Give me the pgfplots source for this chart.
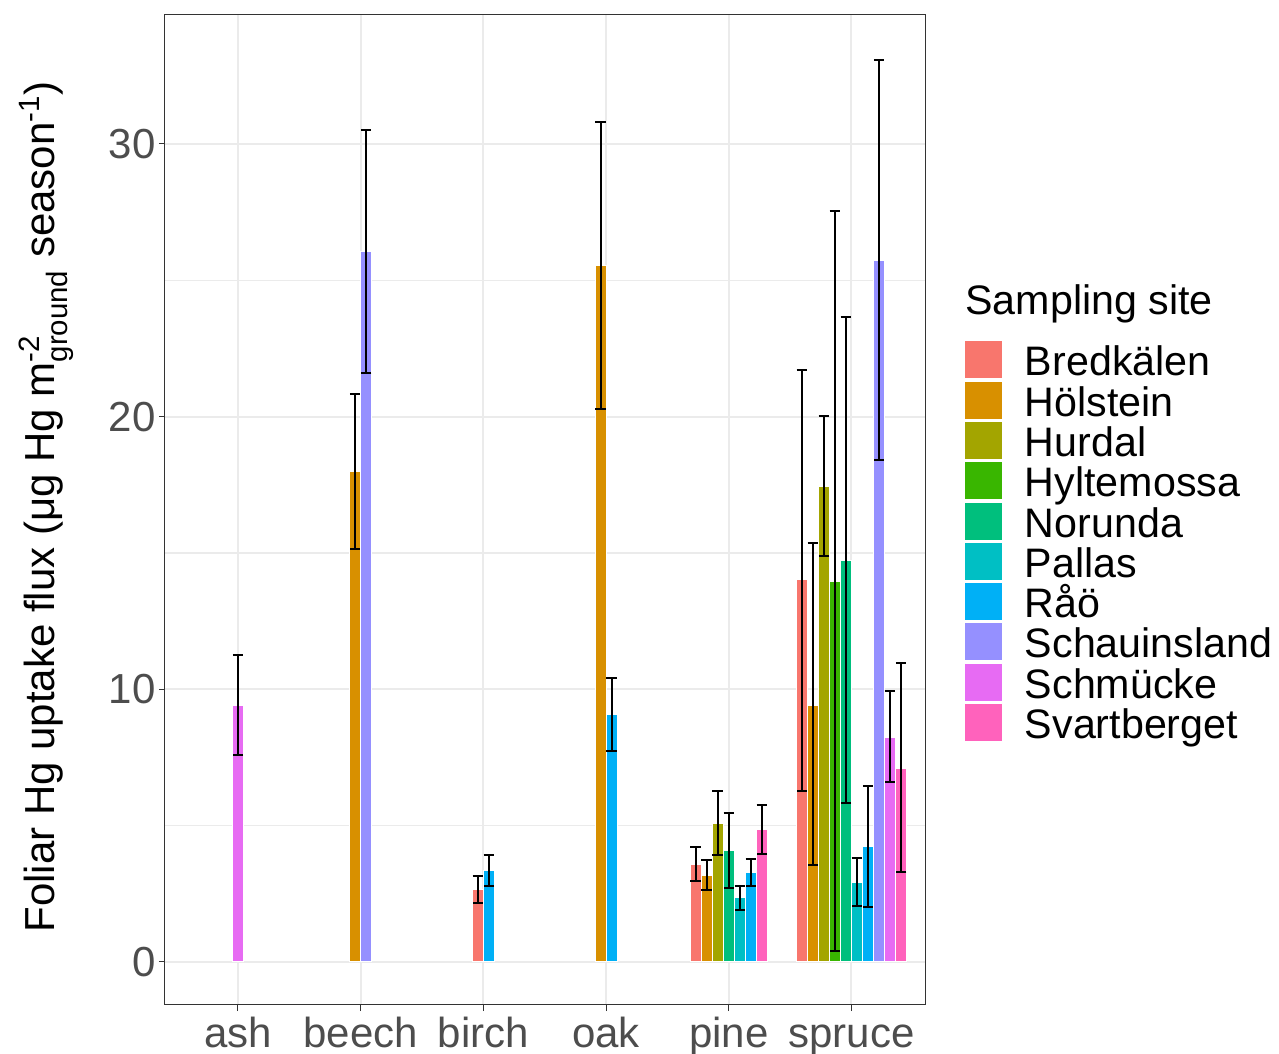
\documentclass[border=0pt]{standalone}
\usepackage{fontspec}
\setmainfont{Liberation Sans}
\usepackage{amsmath}
\usepackage{pgfplots}
\pgfplotsset{compat=1.18}

\definecolor{cBred}{HTML}{F8766D}
\definecolor{cHol}{HTML}{D89000}
\definecolor{cHur}{HTML}{A3A500}
\definecolor{cHyl}{HTML}{39B600}
\definecolor{cNor}{HTML}{00BF7D}
\definecolor{cPal}{HTML}{00BFC4}
\definecolor{cRao}{HTML}{00B0F6}
\definecolor{cSch}{HTML}{9590FF}
\definecolor{cSmu}{HTML}{E76BF3}
\definecolor{cSva}{HTML}{FF62BC}
\definecolor{gridgray}{HTML}{EBEBEB}
\definecolor{gray20}{HTML}{333333}
\definecolor{gray30}{HTML}{4D4D4D}

\newcommand{\bigfont}{\fontsize{21}{25}\selectfont}
\newcommand{\legfont}{\fontsize{20.6}{25}\selectfont}

\begin{document}
\begin{tikzpicture}
  % page = 1279 x 1054 px at 0.5pt per px, axis box at its lower left corner
  \useasboundingbox (-82.5pt,-24.5pt) rectangle (557pt,502.5pt);
  \begin{axis}[
      scale only axis,
      width=380pt, height=495pt,
      xmin=-0.595, xmax=5.6,
      ymin=-1.577, ymax=34.73,
      xtick={0,1,2,3,4,5},
      xticklabels={ash,beech,birch,oak,pine,spruce},
      ytick={0,10,20,30},
      minor ytick={5,15,25},
      minor tick length=0pt,
      major tick length=3pt,
      tick align=outside,
      tick pos=left,
      tick style={gray20, line width=0.5pt},
      xmajorgrids, ymajorgrids, yminorgrids,
      major grid style={gridgray, line width=1pt},
      minor grid style={gridgray, line width=0.55pt},
      axis line style={gray20, line width=0.5pt},
      /pgf/number format/assume math mode=true,
      tick label style={font=\bigfont, text=gray30},
      yticklabel style={anchor=east, inner sep=0pt, xshift=-1.5pt},
      xticklabel style={anchor=north, inner sep=0pt, text height=15.5pt, text depth=4pt, yshift=-2.5pt},
      ylabel={Foliar Hg uptake flux (μg Hg m$^{\text{-2}}_{\text{ground}}$ season$^{\text{-1}}$)},
      every axis y label/.style={at={([xshift=-55pt,yshift=1.5pt]axis description cs:0,0.5)}, rotate=90, anchor=base, font=\bigfont},
      legend cell align=left,
      legend style={at={(1.0526,0.6703)}, anchor=north west, draw=none, fill=none,
        inner sep=0pt, outer sep=0pt, row sep=0pt, column sep=11.5pt,
        font=\legfont,
        nodes={inner sep=0pt, text height=17.2pt, text depth=2.9pt, anchor=base west}},
      every axis plot/.append style={
        ybar, bar width=0.09, bar shift=0pt, draw=white, line width=0.5pt,
        legend image code/.code={\fill[##1, draw=none] (0pt,-1.25pt) rectangle (18.5pt,17.25pt);},
        error bars/y dir=both, error bars/y explicit,
        error bars/error bar style={black, line width=1pt},
        error bars/error mark options={rotate=90, black, mark size=2.6pt, line width=1pt},
      },
  ]
    \addplot[fill=cBred] table[x=x, y=y, y error plus expr=\thisrow{hi}-\thisrow{y}, y error minus expr=\thisrow{y}-\thisrow{lo}] {
      x     y     hi    lo
      1.955 2.67  3.14  2.17
      3.73  3.59  4.23  2.97
      4.595 14.01 21.70 6.27
    };
    \addlegendentry{Bredkälen}
    \addplot[fill=cHol] table[x=x, y=y, y error plus expr=\thisrow{hi}-\thisrow{y}, y error minus expr=\thisrow{y}-\thisrow{lo}] {
      x     y     hi    lo
      0.955 17.97 20.82 15.13
      2.955 25.55 30.82 20.28
      3.82  3.18  3.73  2.64
      4.685 9.42  15.35 3.56
    };
    \addlegendentry{Hölstein}
    \addplot[fill=cHur] table[x=x, y=y, y error plus expr=\thisrow{hi}-\thisrow{y}, y error minus expr=\thisrow{y}-\thisrow{lo}] {
      x     y     hi    lo
      3.91  5.09  6.26  3.91
      4.775 17.45 20.02 14.89
    };
    \addlegendentry{Hurdal}
    \addplot[fill=cHyl] table[x=x, y=y, y error plus expr=\thisrow{hi}-\thisrow{y}, y error minus expr=\thisrow{y}-\thisrow{lo}] {
      x     y     hi    lo
      4.865 13.97 27.54 0.40
    };
    \addlegendentry{Hyltemossa}
    \addplot[fill=cNor] table[x=x, y=y, y error plus expr=\thisrow{hi}-\thisrow{y}, y error minus expr=\thisrow{y}-\thisrow{lo}] {
      x     y     hi    lo
      4.0   4.08  5.47  2.71
      4.955 14.72 23.65 5.82
    };
    \addlegendentry{Norunda}
    \addplot[fill=cPal] table[x=x, y=y, y error plus expr=\thisrow{hi}-\thisrow{y}, y error minus expr=\thisrow{y}-\thisrow{lo}] {
      x     y     hi    lo
      4.09  2.35  2.79  1.91
      5.045 2.92  3.80  2.06
    };
    \addlegendentry{Pallas}
    \addplot[fill=cRao] table[x=x, y=y, y error plus expr=\thisrow{hi}-\thisrow{y}, y error minus expr=\thisrow{y}-\thisrow{lo}] {
      x     y     hi    lo
      2.045 3.34  3.91  2.79
      3.045 9.06  10.41 7.74
      4.18  3.27  3.77  2.80
      5.135 4.22  6.47  2.02
    };
    \addlegendentry{Råö}
    \addplot[fill=cSch] table[x=x, y=y, y error plus expr=\thisrow{hi}-\thisrow{y}, y error minus expr=\thisrow{y}-\thisrow{lo}] {
      x     y     hi    lo
      1.045 26.05 30.53 21.59
      5.225 25.73 33.09 18.40
    };
    \addlegendentry{Schauinsland}
    \addplot[fill=cSmu] table[x=x, y=y, y error plus expr=\thisrow{hi}-\thisrow{y}, y error minus expr=\thisrow{y}-\thisrow{lo}] {
      x     y     hi    lo
      0.0   9.41  11.26 7.60
      5.315 8.25  9.93  6.60
    };
    \addlegendentry{Schmücke}
    \addplot[fill=cSva] table[x=x, y=y, y error plus expr=\thisrow{hi}-\thisrow{y}, y error minus expr=\thisrow{y}-\thisrow{lo}] {
      x     y     hi    lo
      4.27  4.87  5.76  3.97
      5.405 7.11  10.95 3.31
    };
    \addlegendentry{Svartberget}
  \end{axis}
  \node[anchor=base west, inner sep=0pt, font=\legfont] at (400pt,345pt) {Sampling site};
\end{tikzpicture}
\end{document}
